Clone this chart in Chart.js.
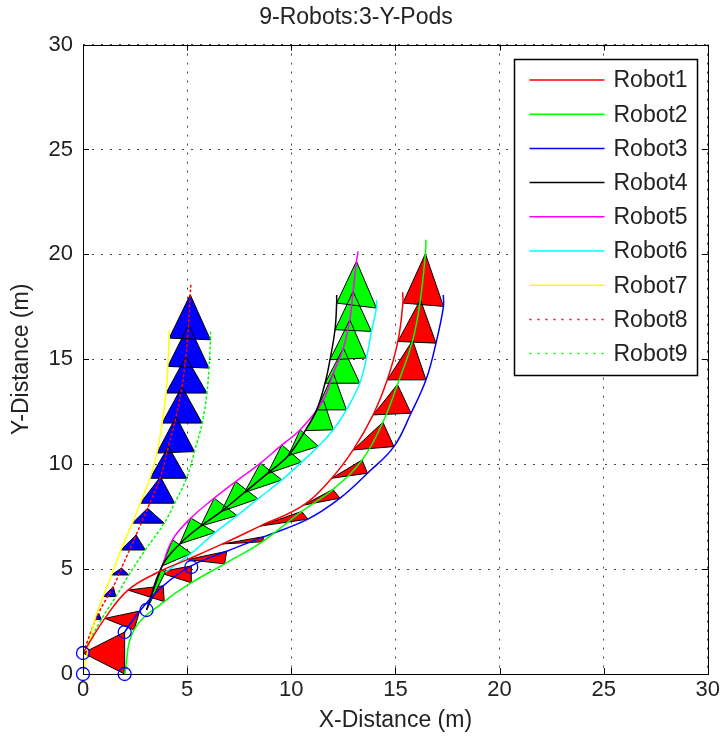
<!DOCTYPE html>
<html>
<head>
<meta charset="utf-8">
<title>9-Robots:3-Y-Pods</title>
<script src="https://cdn.jsdelivr.net/npm/chart.js@4.4.1/dist/chart.umd.min.js"></script>
<style>
  html, body { margin: 0; padding: 0; background: #fff; }
  #wrap { width: 723px; height: 743px; }
</style>
</head>
<body>
<div id="wrap"><canvas id="myChart" width="723" height="743"></canvas></div>
<script>
// Robot trajectories, sampled at the same time steps (x, y in metres)
// Pod 3 (red triangles)
const robot1 = [[0, 1], [1.05, 2.65], [2.16, 4.0], [3.6, 4.85], [5.0, 5.45], [6.7, 6.2], [8.5, 7.05], [10.59, 8.05], [11.94, 9.33], [12.97, 10.68], [13.93, 12.35], [14.61, 14.02], [15.12, 15.85], [15.36, 17.68], [15.35, 18.2]];
const robot2 = [[2, 0], [2.45, 2.1], [3.9, 3.45], [5.2, 4.35], [6.8, 5.25], [8.6, 6.3], [10.5, 7.75], [12.0, 8.8], [13.4, 10.2], [14.4, 12.0], [15.1, 13.8], [15.83, 15.9], [16.2, 17.84], [16.44, 20.03], [16.47, 20.7]];
const robot3 = [[2, 2], [2.72, 3.0], [3.85, 4.2], [5.2, 5.15], [6.9, 5.85], [8.7, 6.55], [10.8, 7.38], [12.34, 8.38], [13.66, 9.57], [14.93, 10.84], [15.75, 12.43], [16.47, 14.02], [16.95, 15.77], [17.31, 17.52], [17.3, 18.07]];
// Pod 2 (green triangles)
const robot4 = [[3.05, 3.05], [3.8, 5.15], [4.65, 6.2], [5.65, 7.05], [6.65, 7.75], [7.75, 8.65], [8.85, 9.55], [9.85, 10.4], [10.67, 11.6], [11.22, 12.59], [11.62, 13.86], [11.86, 14.98], [12.1, 16.41], [12.18, 17.68], [12.18, 18.07]];
const robot5 = [[3.75, 5.0], [4.3, 6.4], [5.18, 7.43], [6.3, 8.38], [7.33, 9.17], [8.52, 10.05], [9.55, 10.92], [10.43, 11.64], [11.54, 13.07], [12.02, 14.34], [12.5, 15.53], [12.81, 16.88], [12.97, 18.23], [13.13, 19.67], [13.21, 20.14]];
const robot6 = [[3.95, 4.85], [5.2, 5.75], [6.35, 6.75], [7.4, 7.55], [8.4, 8.35], [9.55, 9.25], [10.5, 10.1], [11.3, 10.85], [12.02, 11.64], [12.65, 12.59], [13.29, 13.86], [13.61, 15.06], [13.85, 16.33], [14.09, 17.44], [14.09, 17.84]];
// Pod 1 (blue triangles)
const robot7 = [[0, 0], [0.57, 2.6], [0.97, 3.69], [1.37, 4.72], [1.82, 5.91], [2.37, 7.19], [2.75, 8.14], [3.22, 9.33], [3.55, 10.53], [3.8, 11.96], [3.99, 13.39], [4.07, 14.66], [4.14, 16.01], [4.15, 16.4]];
const robot8 = [[0, 1], [0.75, 2.9], [1.45, 4.16], [1.85, 5.05], [2.55, 6.63], [3.1, 7.9], [3.72, 9.4], [4.1, 10.84], [4.47, 12.27], [4.75, 13.7], [4.94, 15.13], [5.07, 16.65], [5.15, 18.08], [5.18, 18.63]];
const robot9 = [[0, 1], [0.88, 2.6], [1.58, 3.69], [2.2, 4.72], [2.99, 5.91], [3.9, 7.19], [4.4, 8.14], [4.97, 9.33], [5.35, 10.6], [5.72, 11.96], [5.95, 13.39], [6.05, 14.58], [6.12, 15.93], [6.13, 16.4]];

// start markers (blue circles)
const startX = [0, 0, 2, 2, 3.05, 5.2];
const startY = [0, 1, 0, 2, 3.05, 5.1];

const robotNames = ['Robot1', 'Robot2', 'Robot3', 'Robot4', 'Robot5', 'Robot6', 'Robot7', 'Robot8', 'Robot9'];
const robotColors = ['#ff0000', '#00ff00', '#0000ff', '#000000', '#ff00ff', '#00ffff', '#ffff00', '#ff0000', '#00ff00'];
const robotDotted = [false, false, false, false, false, false, false, true, true];

// pods: [left, apex, right] and fill colour of the formation triangles
const pods = [[robot7, robot8, robot9], [robot4, robot5, robot6], [robot1, robot2, robot3]];
const podColors = ['#0000ff', '#00ff00', '#ff0000'];

const axisMin = 0, axisMax = 30, axisStep = 5;

const FONT = '"Liberation Sans", Arial, Helvetica, sans-serif';
const robots = [robot1, robot2, robot3, robot4, robot5, robot6, robot7, robot8, robot9];

function toPoints(arr) {
    return arr.map(p => ({ x: p[0], y: p[1] }));
}

// one dataset per pod: triangles separated by gaps
function triangles(pod) {
    let pts = [];
    for (let i = 0; i < pod[0].length - 1; i++) {
        [pod[0][i], pod[1][i], pod[2][i], pod[0][i]].forEach(p => pts.push({ x: p[0], y: p[1] }));
        pts.push({ x: NaN, y: NaN });
    }
    return pts;
}

let datasets = [];

robots.forEach((r, i) => {
    datasets.push({
        label: robotNames[i],
        data: toPoints(r),
        showLine: true,
        borderColor: robotColors[i],
        borderWidth: 1.5,
        borderDash: robotDotted[i] ? [3, 2] : [],
        tension: 0.4,
        pointRadius: 0,
        fill: false,
        order: 1
    });
});

pods.forEach((pod, i) => {
    datasets.push({
        label: 'pod' + (i + 1),
        data: triangles(pod),
        showLine: true,
        spanGaps: false,
        borderColor: '#000000',
        borderWidth: 1,
        backgroundColor: podColors[i],
        fill: 'shape',
        tension: 0,
        pointRadius: 0,
        order: 2
    });
});

datasets.push({
    label: 'start',
    data: startX.map((x, i) => ({ x: x, y: startY[i] })),
    showLine: false,
    pointRadius: 6.5,
    pointStyle: 'circle',
    pointBackgroundColor: 'rgba(0,0,0,0)',
    pointBorderColor: '#0000ff',
    pointBorderWidth: 1.3,
    clip: false,
    order: 0
});

// axes box with inward tick marks, and the legend box
const matlabFrame = {
    id: 'matlabFrame',
    afterDraw(chart) {
        const ctx = chart.ctx;
        const a = chart.chartArea;
        const sx = chart.scales.x, sy = chart.scales.y;
        ctx.save();
        ctx.strokeStyle = '#000';
        ctx.lineWidth = 1;
        ctx.strokeRect(Math.round(a.left) + 0.5, Math.round(a.top) + 0.5, Math.round(a.right - a.left), Math.round(a.bottom - a.top));
        ctx.beginPath();
        sx.ticks.forEach(t => {
            const px = Math.round(sx.getPixelForValue(t.value)) + 0.5;
            ctx.moveTo(px, a.bottom); ctx.lineTo(px, a.bottom - 6);
            ctx.moveTo(px, a.top); ctx.lineTo(px, a.top + 6);
        });
        sy.ticks.forEach(t => {
            const py = Math.round(sy.getPixelForValue(t.value)) + 0.5;
            ctx.moveTo(a.left, py); ctx.lineTo(a.left + 6, py);
            ctx.moveTo(a.right, py); ctx.lineTo(a.right - 6, py);
        });
        ctx.stroke();

        // legend
        const w = 183, h = 316;
        const x0 = Math.round(a.right - 11 - w) + 0.5, y0 = Math.round(a.top + 14) + 0.5;
        ctx.fillStyle = '#ffffff';
        ctx.fillRect(x0, y0, w, h);
        ctx.lineWidth = 1.5;
        ctx.strokeStyle = '#000';
        ctx.strokeRect(x0, y0, w, h);
        ctx.font = '23px ' + FONT;
        ctx.textBaseline = 'middle';
        ctx.textAlign = 'left';
        robotNames.forEach((name, i) => {
            const y = y0 + 20.5 + i * 34.2;
            ctx.beginPath();
            ctx.strokeStyle = robotColors[i];
            ctx.lineWidth = 1.5;
            ctx.setLineDash(robotDotted[i] ? [2, 6] : []);
            ctx.moveTo(x0 + 15, y);
            ctx.lineTo(x0 + 90, y);
            ctx.stroke();
            ctx.setLineDash([]);
            ctx.fillStyle = '#222';
            ctx.fillText(name, x0 + 99, y + 1);
        });
        ctx.restore();
    }
};

const tickFont = { family: FONT, size: 22 };
const labelFont = { family: FONT, size: 23 };

var ctx = document.getElementById('myChart');
var myChart = new Chart(ctx, {
    type: 'scatter',
    data: { datasets: datasets },
    options: {
        responsive: false,
        animation: false,
        events: [],
        layout: { padding: { left: 0, right: 11, top: 0, bottom: 0 } },
        scales: {
            x: {
                type: 'linear',
                min: axisMin,
                max: axisMax,
                ticks: { stepSize: axisStep, font: tickFont, color: '#222', padding: 3, maxRotation: 0 },
                grid: { color: '#444', lineWidth: 1, drawTicks: false },
                border: { display: false, dash: [2, 7] },
                title: { display: true, text: 'X-Distance (m)', font: labelFont, color: '#222', padding: { top: 0, bottom: 9 } },
                afterFit: function (scale) { scale.height = 69; }
            },
            y: {
                type: 'linear',
                min: axisMin,
                max: axisMax,
                ticks: { stepSize: axisStep, font: tickFont, color: '#222', padding: 10 },
                grid: { color: '#444', lineWidth: 1, drawTicks: false },
                border: { display: false, dash: [2, 7] },
                title: { display: true, text: 'Y-Distance (m)', font: labelFont, color: '#222', padding: { top: 8, bottom: 0 } },
                afterFit: function (scale) { scale.width = 83; }
            }
        },
        plugins: {
            legend: { display: false },
            tooltip: { enabled: false },
            title: {
                display: true,
                text: '9-Robots:3-Y-Pods',
                font: { family: FONT, size: 23, weight: 'normal' },
                color: '#222',
                padding: { top: 4, bottom: 13 }
            }
        }
    },
    plugins: [matlabFrame]
});
</script>
</body>
</html>
